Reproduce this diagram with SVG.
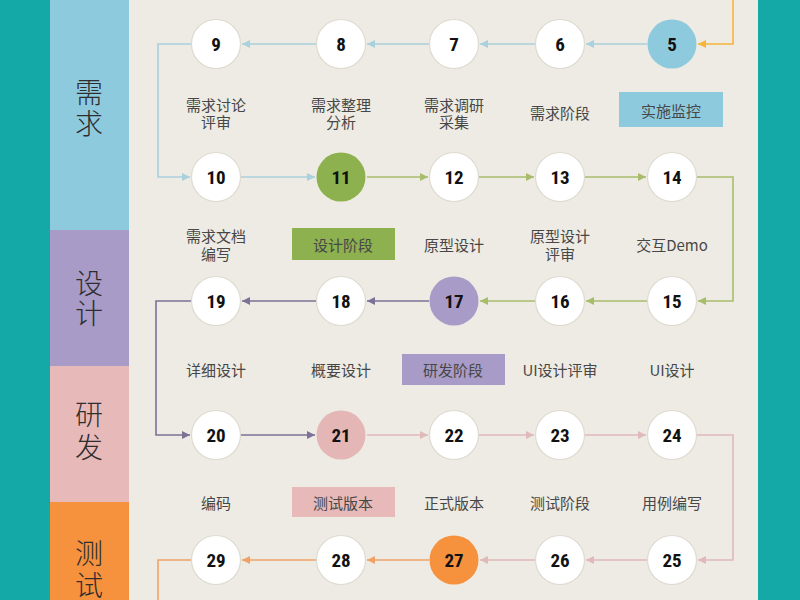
<svg xmlns="http://www.w3.org/2000/svg" width="800" height="600" viewBox="0 0 800 600">
<style>
.bg{fill:#EDEBE3}
.teal{fill:#14A8A7}
.band{font-family:"Noto Sans CJK SC","Noto Sans",sans-serif;font-size:28px;font-weight:300;fill:#2E2E2E;text-anchor:middle;writing-mode:vertical-rl}
.lbl{font-family:"Noto Sans CJK SC","Noto Sans",sans-serif;font-size:15px;fill:#474747;text-anchor:middle;dominant-baseline:central}
.num{font-family:"Roboto Condensed","Roboto",sans-serif;font-size:19px;font-weight:bold;fill:#111;text-anchor:middle;dominant-baseline:central}
.node{fill:#FFFFFF;stroke:#DEDAD0;stroke-width:1.2}
.c{fill:none;stroke-width:1.6}
.cb{stroke:#A9D0DD}
.cg{stroke:#A8BD6C}
.cp{stroke:#7E7198}
.ck{stroke:#DFBABA}
.co{stroke:#F0A266}
.cy{stroke:#F5B53A}
</style>
<defs>
<marker id="ab" markerUnits="userSpaceOnUse" markerWidth="10" markerHeight="10" refX="8" refY="4" orient="auto"><path d="M0,0 L8,4 L0,8 z" fill="#A9D0DD"/></marker>
<marker id="ag" markerUnits="userSpaceOnUse" markerWidth="10" markerHeight="10" refX="8" refY="4" orient="auto"><path d="M0,0 L8,4 L0,8 z" fill="#A8BD6C"/></marker>
<marker id="ap" markerUnits="userSpaceOnUse" markerWidth="10" markerHeight="10" refX="8" refY="4" orient="auto"><path d="M0,0 L8,4 L0,8 z" fill="#7E7198"/></marker>
<marker id="ak" markerUnits="userSpaceOnUse" markerWidth="10" markerHeight="10" refX="8" refY="4" orient="auto"><path d="M0,0 L8,4 L0,8 z" fill="#DFBABA"/></marker>
<marker id="ao" markerUnits="userSpaceOnUse" markerWidth="10" markerHeight="10" refX="8" refY="4" orient="auto"><path d="M0,0 L8,4 L0,8 z" fill="#F0A266"/></marker>
<marker id="ay" markerUnits="userSpaceOnUse" markerWidth="10" markerHeight="10" refX="8" refY="4" orient="auto"><path d="M0,0 L8,4 L0,8 z" fill="#F5B53A"/></marker>
</defs>

<rect class="bg" x="0" y="0" width="800" height="600"/>
<rect class="teal" x="0" y="0" width="50" height="600"/>
<rect class="teal" x="758" y="0" width="42" height="600"/>

<g id="phase-xuqiu">
<rect x="50" y="0" width="79" height="230" fill="#8ECADE"/>
<text class="band" x="89" y="109" letter-spacing="3">需求</text>
</g>
<g id="phase-sheji">
<rect x="50" y="230" width="79" height="136" fill="#A99BC7"/>
<text class="band" x="89" y="299" letter-spacing="2">设计</text>
</g>
<g id="phase-yanfa">
<rect x="50" y="366" width="79" height="136" fill="#E8B9B9"/>
<text class="band" x="89" y="433" letter-spacing="5">研发</text>
</g>
<g id="phase-ceshi">
<rect x="50" y="502" width="79" height="98" fill="#F6913E"/>
<text class="band" x="89" y="571" letter-spacing="4">测试</text>
</g>

<g id="connectors">
<path class="c cy" d="M733,0 L733,44 L698,44" marker-end="url(#ay)"/>
<path class="c cb" d="M647,44 L586,44" marker-end="url(#ab)"/>
<path class="c cb" d="M535,44 L480,44" marker-end="url(#ab)"/>
<path class="c cb" d="M429,44 L367,44" marker-end="url(#ab)"/>
<path class="c cb" d="M316,44 L242,44" marker-end="url(#ab)"/>
<path class="c cb" d="M191,44 L158,44 L158,177 L190,177" marker-end="url(#ab)"/>
<path class="c cb" d="M241,177 L315,177" marker-end="url(#ab)"/>
<path class="c cg" d="M367,177 L428,177" marker-end="url(#ag)"/>
<path class="c cg" d="M479,177 L534,177" marker-end="url(#ag)"/>
<path class="c cg" d="M585,177 L646,177" marker-end="url(#ag)"/>
<path class="c cg" d="M697,177 L733,177 L733,301 L698,301" marker-end="url(#ag)"/>
<path class="c cg" d="M647,301 L586,301" marker-end="url(#ag)"/>
<path class="c cg" d="M535,301 L480,301" marker-end="url(#ag)"/>
<path class="c cp" d="M429,301 L367,301" marker-end="url(#ap)"/>
<path class="c cp" d="M316,301 L242,301" marker-end="url(#ap)"/>
<path class="c cp" d="M191,301 L156,301 L156,435 L190,435" marker-end="url(#ap)"/>
<path class="c cp" d="M241,435 L315,435" marker-end="url(#ap)"/>
<path class="c ck" d="M367,435 L428,435" marker-end="url(#ak)"/>
<path class="c ck" d="M479,435 L534,435" marker-end="url(#ak)"/>
<path class="c ck" d="M585,435 L646,435" marker-end="url(#ak)"/>
<path class="c ck" d="M697,435 L733,435 L733,560 L698,560" marker-end="url(#ak)"/>
<path class="c ck" d="M647,560 L586,560" marker-end="url(#ak)"/>
<path class="c ck" d="M535,560 L480,560" marker-end="url(#ak)"/>
<path class="c co" d="M429,560 L367,560" marker-end="url(#ao)"/>
<path class="c co" d="M316,560 L242,560" marker-end="url(#ao)"/>
<path class="c co" d="M191,560 L158,560 L158,600"/>
</g>

<g id="n5"><circle cx="672" cy="44" r="24.5" fill="#8ECADE"/><text class="num" x="672" y="44">5</text></g>
<g id="n6"><circle class="node" cx="560" cy="44" r="24.5"/><text class="num" x="560" y="44">6</text></g>
<g id="n7"><circle class="node" cx="454" cy="44" r="24.5"/><text class="num" x="454" y="44">7</text></g>
<g id="n8"><circle class="node" cx="341" cy="44" r="24.5"/><text class="num" x="341" y="44">8</text></g>
<g id="n9"><circle class="node" cx="216" cy="44" r="24.5"/><text class="num" x="216" y="44">9</text></g>

<g id="n10"><circle class="node" cx="216" cy="177" r="24.5"/><text class="num" x="216" y="177">10</text></g>
<g id="n11"><circle cx="341" cy="177" r="24.5" fill="#8DB14F"/><text class="num" x="341" y="177">11</text></g>
<g id="n12"><circle class="node" cx="454" cy="177" r="24.5"/><text class="num" x="454" y="177">12</text></g>
<g id="n13"><circle class="node" cx="560" cy="177" r="24.5"/><text class="num" x="560" y="177">13</text></g>
<g id="n14"><circle class="node" cx="672" cy="177" r="24.5"/><text class="num" x="672" y="177">14</text></g>

<g id="n15"><circle class="node" cx="672" cy="301" r="24.5"/><text class="num" x="672" y="301">15</text></g>
<g id="n16"><circle class="node" cx="560" cy="301" r="24.5"/><text class="num" x="560" y="301">16</text></g>
<g id="n17"><circle cx="454" cy="301" r="24.5" fill="#A99BC7"/><text class="num" x="454" y="301">17</text></g>
<g id="n18"><circle class="node" cx="341" cy="301" r="24.5"/><text class="num" x="341" y="301">18</text></g>
<g id="n19"><circle class="node" cx="216" cy="301" r="24.5"/><text class="num" x="216" y="301">19</text></g>

<g id="n20"><circle class="node" cx="216" cy="435" r="24.5"/><text class="num" x="216" y="435">20</text></g>
<g id="n21"><circle cx="341" cy="435" r="24.5" fill="#E5B6B6"/><text class="num" x="341" y="435">21</text></g>
<g id="n22"><circle class="node" cx="454" cy="435" r="24.5"/><text class="num" x="454" y="435">22</text></g>
<g id="n23"><circle class="node" cx="560" cy="435" r="24.5"/><text class="num" x="560" y="435">23</text></g>
<g id="n24"><circle class="node" cx="672" cy="435" r="24.5"/><text class="num" x="672" y="435">24</text></g>

<g id="n25"><circle class="node" cx="672" cy="560" r="24.5"/><text class="num" x="672" y="560">25</text></g>
<g id="n26"><circle class="node" cx="560" cy="560" r="24.5"/><text class="num" x="560" y="560">26</text></g>
<g id="n27"><circle cx="454" cy="560" r="24.5" fill="#F6913E"/><text class="num" x="454" y="560">27</text></g>
<g id="n28"><circle class="node" cx="341" cy="560" r="24.5"/><text class="num" x="341" y="560">28</text></g>
<g id="n29"><circle class="node" cx="216" cy="560" r="24.5"/><text class="num" x="216" y="560">29</text></g>

<g id="labels">
<text class="lbl" x="216" y="104"><tspan x="216" y="104">需求讨论</tspan><tspan x="216" y="121">评审</tspan></text>
<text class="lbl" x="341" y="104"><tspan x="341" y="104">需求整理</tspan><tspan x="341" y="121">分析</tspan></text>
<text class="lbl" x="454" y="104"><tspan x="454" y="104">需求调研</tspan><tspan x="454" y="121">采集</tspan></text>
<text class="lbl" x="560" y="112">需求阶段</text>

<text class="lbl" x="216" y="235"><tspan x="216" y="235">需求文档</tspan><tspan x="216" y="253">编写</tspan></text>
<text class="lbl" x="454" y="244">原型设计</text>
<text class="lbl" x="560" y="235"><tspan x="560" y="235">原型设计</tspan><tspan x="560" y="253">评审</tspan></text>
<text class="lbl" x="672" y="244">交互Demo</text>

<text class="lbl" x="216" y="369">详细设计</text>
<text class="lbl" x="341" y="369">概要设计</text>
<text class="lbl" x="560" y="369">UI设计评审</text>
<text class="lbl" x="672" y="369">UI设计</text>

<text class="lbl" x="216" y="502">编码</text>
<text class="lbl" x="454" y="502">正式版本</text>
<text class="lbl" x="560" y="502">测试阶段</text>
<text class="lbl" x="672" y="502">用例编写</text>
</g>

<g id="box-shishi"><rect x="619" y="92" width="104" height="35" fill="#8ECADE"/><text class="lbl" x="671" y="110">实施监控</text></g>
<g id="box-sheji"><rect x="292" y="228" width="103" height="32" fill="#8DB14F"/><text class="lbl" x="343" y="244">设计阶段</text></g>
<g id="box-yanfa"><rect x="402" y="354" width="103" height="31" fill="#A99BC7"/><text class="lbl" x="453" y="369">研发阶段</text></g>
<g id="box-ceshi"><rect x="292" y="487" width="103" height="30" fill="#E8B9B9"/><text class="lbl" x="343" y="502">测试版本</text></g>
</svg>
